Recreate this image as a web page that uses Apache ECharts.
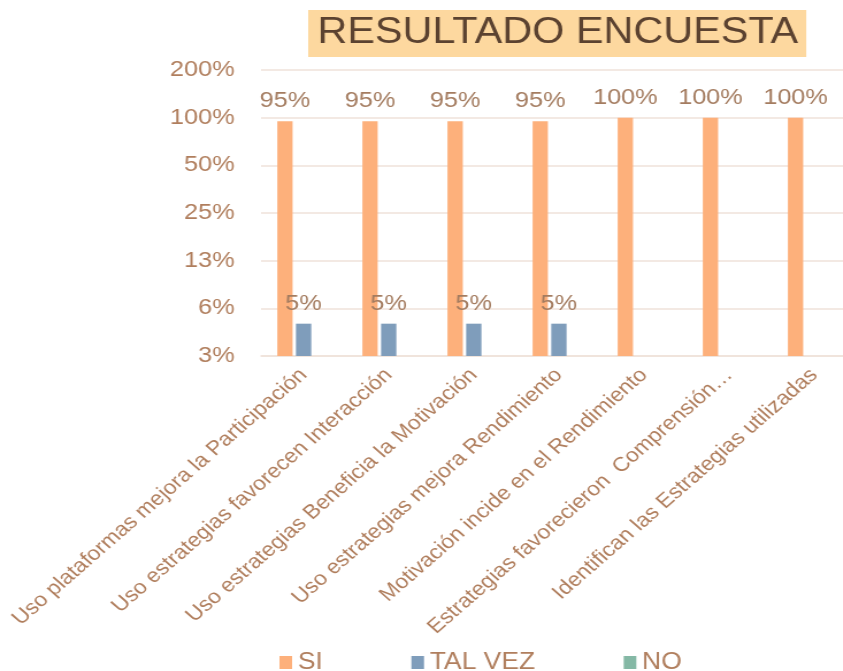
<!DOCTYPE html>
<html>
<head>
<meta charset="utf-8">
<script src="https://cdn.jsdelivr.net/npm/echarts@6/dist/echarts.min.js"></script>
<style>
html,body{margin:0;padding:0;background:#fff;overflow:hidden;width:843px;height:671px}
#c{width:750px;height:671px;transform:scaleX(1.15);transform-origin:0 0}
</style>
</head>
<body>
<div id="c"></div>
<script>
const categories = [
  'Uso plataformas mejora la Participación',
  'Uso estrategias favorecen Interacción',
  'Uso estrategias Beneficia la Motivación',
  'Uso estrategias mejora Rendimiento',
  'Motivación incide en el Rendimiento',
  'Estrategias favorecieron  Comprensión…',
  'Identifican las Estrategias utilizadas'
];
const seriesNames = ['SI', 'TAL VEZ', 'NO'];
const siValues = [0.95, 0.95, 0.95, 0.95, 1.00, 1.00, 1.00];
const talVezValues = [0.05, 0.05, 0.05, 0.05, null, null, null];
const noValues = [null, null, null, null, null, null, null];
const yTickValues = [0.03125, 0.0625, 0.125, 0.25, 0.5, 1, 2];
const yTickLabels = ['3%', '6%', '13%', '25%', '50%', '100%', '200%'];

const txt = '#b07e5d';
const font = 'Liberation Sans';
const chart = echarts.init(document.getElementById('c'), null, {renderer: 'canvas'});
const lbl = {
  show: true, position: 'top', distance: 9,
  color: '#a47c60', fontSize: 22, fontFamily: font,
  formatter: p => Math.round(p.value * 100) + '%'
};
chart.setOption({
  animation: false,
  title: {
    text: 'RESULTADO ENCUESTA',
    left: 268, top: 10,
    padding: [5, 7, 5, 8],
    backgroundColor: '#fdd89f',
    textStyle: {color: '#5b4230', fontSize: 36, fontWeight: 'normal', fontFamily: font, lineHeight: 37}
  },
  legend: {
    data: seriesNames,
    top: 646, left: 238,
    itemWidth: 11, itemHeight: 13, itemGap: 77,
    icon: 'rect',
    textStyle: {color: txt, fontSize: 23, fontFamily: font}
  },
  grid: {left: 227, right: 5, top: 70, bottom: 315, containLabel: false},
  xAxis: {
    type: 'category',
    data: categories,
    axisLine: {show: true, lineStyle: {color: '#efe2da', width: 1.5}},
    axisTick: {show: false},
    axisLabel: {rotate: 45, interval: 0, margin: 16, color: txt, fontSize: 20, fontFamily: font}
  },
  yAxis: {
    type: 'log', logBase: 2,
    min: yTickValues[0], max: yTickValues[yTickValues.length - 1],
    startValue: yTickValues[0],
    interval: 1, splitNumber: 6,
    axisLine: {show: false}, axisTick: {show: false},
    splitLine: {lineStyle: {color: '#efe2da', width: 1.5}},
    axisLabel: {
      color: txt, fontSize: 22, fontFamily: font, margin: 23,
      formatter: v => {
        const i = yTickValues.findIndex(t => Math.abs(t - v) / t < 1e-6);
        return i >= 0 ? yTickLabels[i] : '';
      }
    }
  },
  series: [
    {name: seriesNames[0], type: 'bar', data: siValues, barWidth: 13.3, barGap: '22%', clip: true,
     itemStyle: {color: '#fdb07b'}, label: lbl},
    {name: seriesNames[1], type: 'bar', data: talVezValues, barWidth: 13.3, barGap: '22%', clip: true,
     itemStyle: {color: '#7f9dbb'}, label: lbl},
    {name: seriesNames[2], type: 'bar', data: noValues, barWidth: 13.3, barGap: '22%', clip: true,
     itemStyle: {color: '#84b8a5'}, label: lbl}
  ]
});
</script>
</body>
</html>
